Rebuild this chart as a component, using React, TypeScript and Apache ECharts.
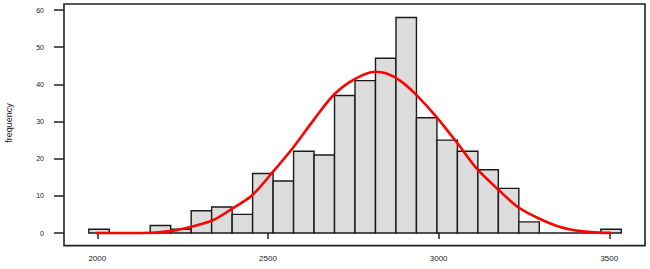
import React, { useEffect, useRef } from "react";
import * as echarts from "echarts";

// Histogram bins
const binStart = 1975;
const binWidth = 60;
const counts = [1, 0, 0, 2, 1, 6, 7, 5, 16, 14, 22, 21, 37, 41, 47, 58, 31, 25, 22, 17, 12, 3, 0, 0, 0, 1];

// Fitted curve
const curveX = [1970, 2134, 2213, 2272, 2340, 2394, 2452, 2513, 2574, 2633, 2691, 2750, 2814, 2848, 2887, 2931, 2994, 3058, 3112, 3172, 3232, 3294, 3356, 3415, 3473, 3532];
const curveY = [0, 0, 0.5, 1.6, 3.5, 6.5, 10, 16.3, 23, 30.3, 37, 41.2, 43.4, 42.9, 41, 37.5, 31.2, 23.8, 17.3, 11.9, 7, 3.9, 1.6, 0.5, 0.1, 0];

const xTicks = { min: 2000, max: 3500, interval: 500 };
const yTicks = { min: 0, max: 60, interval: 10 };
const yName = "frequency";

export default function App() {
  const ref = useRef<HTMLDivElement>(null);
  useEffect(() => {
    if (!ref.current) return;
    const chart = echarts.init(ref.current, null, { renderer: "svg" });
    const binData = counts.map((c, i) => [binStart + i * binWidth, binStart + (i + 1) * binWidth, c]);
    const lineData = curveX.map((x, i) => [x, curveY[i]]);
    const font = "'Liberation Sans', Arial, sans-serif";
    chart.setOption({
      animation: false,
      backgroundColor: "#ffffff",
      grid: { left: 97.3, right: 40.7, top: 10, bottom: 36 },
      xAxis: {
        type: "value",
        min: xTicks.min,
        max: xTicks.max,
        interval: xTicks.interval,
        offset: 12.6,
        axisLine: { show: false },
        axisTick: { show: true, length: 6, lineStyle: { color: "#222", width: 1.5 } },
        axisLabel: { fontSize: 8, color: "#222", margin: 9, fontFamily: font, formatter: (v: number) => String(v) },
        splitLine: { show: false },
      },
      yAxis: {
        type: "value",
        min: yTicks.min,
        max: yTicks.max,
        interval: yTicks.interval,
        offset: 33.3,
        axisLine: { show: false },
        axisTick: { show: true, length: 10, lineStyle: { color: "#222", width: 1.5 } },
        axisLabel: { fontSize: 7, color: "#222", margin: 20, fontFamily: font, formatter: (v: number) => String(v) },
        splitLine: { show: false },
      },
      graphic: [
        {
          type: "rect",
          shape: { x: 64, y: 4, width: 581, height: 241.6 },
          style: { fill: "none", stroke: "#222", lineWidth: 1.6 },
          z: 10,
        },
        {
          type: "text",
          x: 9,
          y: 123,
          rotation: Math.PI / 2,
          style: {
            text: yName,
            fontSize: 9,
            fontFamily: font,
            fill: "#222",
            align: "center",
            verticalAlign: "middle",
          },
        },
      ],
      series: [
        {
          type: "custom",
          clip: false,
          data: binData,
          encode: { x: [0, 1], y: 2 },
          renderItem: (params: any, api: any) => {
            const p0 = api.coord([api.value(0), api.value(2)]);
            const p1 = api.coord([api.value(1), 0]);
            return {
              type: "rect",
              shape: { x: p0[0], y: p0[1], width: p1[0] - p0[0], height: p1[1] - p0[1] },
              style: { fill: "#dcdcdc", stroke: "#1a1a1a", lineWidth: 1.4 },
            };
          },
          z: 2,
        },
        {
          type: "line",
          data: lineData,
          clip: false,
          smooth: 0.3,
          symbol: "none",
          lineStyle: { color: "#ff0000", width: 2.6 },
          z: 5,
        },
      ],
    });
    return () => chart.dispose();
  }, []);
  return <div ref={ref} style={{ position: "fixed", left: 0, top: 0, width: 650, height: 269 }} />;
}
